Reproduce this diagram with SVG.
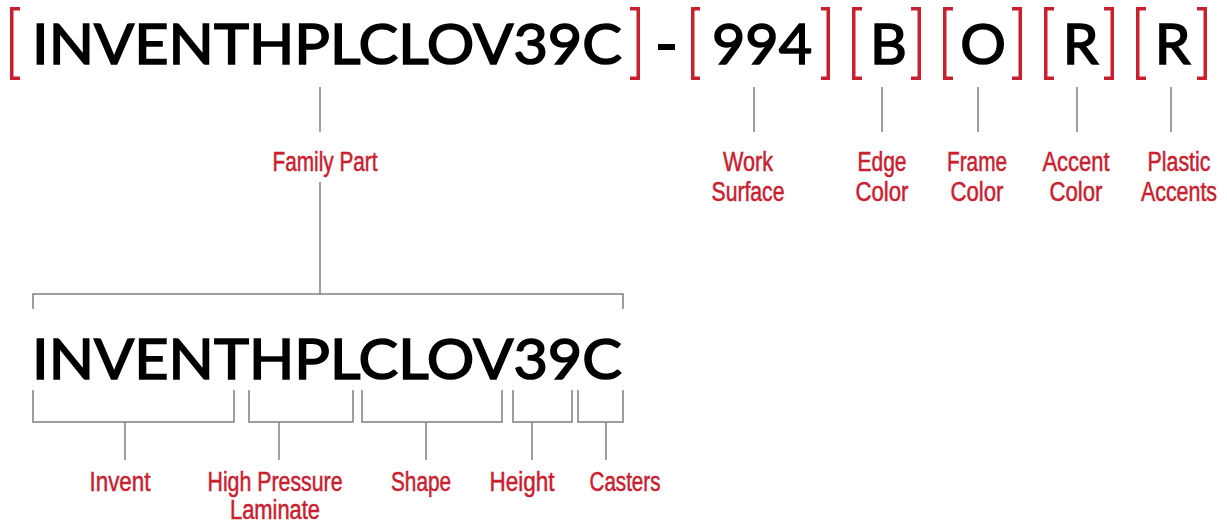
<svg xmlns="http://www.w3.org/2000/svg" width="1227" height="523" viewBox="0 0 1227 523">
<style>
.code{font-family:Lato,"Liberation Sans",sans-serif;font-size:57px;font-weight:400;fill:#000;stroke:#000;stroke-width:1.6}
.lbl{font-family:"Liberation Sans",sans-serif;font-size:27px;fill:#c8202f;stroke:#c8202f;stroke-width:0.5;text-anchor:middle}
.br{fill:none;stroke:#c8202f;stroke-width:3.5}
.ln{fill:none;stroke:#808080;stroke-width:1.5}
</style>
<rect width="1227" height="523" fill="#fff"/>
<g id="top-code">
<text class="code" x="32" y="64" textLength="590" lengthAdjust="spacingAndGlyphs">INVENTHPLCLOV39C</text>
<rect x="658" y="44" width="17" height="6" fill="#000"/>
<text class="code" x="712" y="64" textLength="100" lengthAdjust="spacingAndGlyphs">994</text>
<text class="code" x="888.5" y="64" text-anchor="middle">B</text>
<text class="code" x="983" y="64" text-anchor="middle">O</text>
<text class="code" x="1080.5" y="64" text-anchor="middle">R</text>
<text class="code" x="1172.5" y="64" text-anchor="middle">R</text>
</g>
<g id="brackets">
<path class="br" d="M20,8.75H11.75V78.25H20"/>
<path class="br" d="M630,8.75H638.25V78.25H630"/>
<path class="br" d="M700,8.75H692.75V78.25H700"/>
<path class="br" d="M821,8.75H828.25V78.25H821"/>
<path class="br" d="M862,8.75H853.75V78.25H862"/>
<path class="br" d="M911,8.75H919.25V78.25H911"/>
<path class="br" d="M953,8.75H944.75V78.25H953"/>
<path class="br" d="M1012,8.75H1020.25V78.25H1012"/>
<path class="br" d="M1054,8.75H1045.75V78.25H1054"/>
<path class="br" d="M1104,8.75H1112.25V78.25H1104"/>
<path class="br" d="M1146,8.75H1137.75V78.25H1146"/>
<path class="br" d="M1197,8.75H1205.25V78.25H1197"/>
</g>
<g id="connectors">
<path class="ln" d="M320,87V132"/>
<path class="ln" d="M754,87V132"/>
<path class="ln" d="M882,87V132"/>
<path class="ln" d="M978,87V132"/>
<path class="ln" d="M1077,87V132"/>
<path class="ln" d="M1171,87V132"/>
<path class="ln" d="M320,182V294"/>
<path class="ln" d="M33,309V294H623V309"/>
<path class="ln" d="M33,390V422H234V390"/>
<path class="ln" d="M249,390V422H353V390"/>
<path class="ln" d="M362,390V422H502V390"/>
<path class="ln" d="M513,390V422H572V390"/>
<path class="ln" d="M578,390V422H623V390"/>
<path class="ln" d="M125,422V460"/>
<path class="ln" d="M279,422V460"/>
<path class="ln" d="M426,422V460"/>
<path class="ln" d="M532,422V460"/>
<path class="ln" d="M606,422V460"/>
</g>
<g id="family-part"><text class="lbl" x="325" y="171" textLength="105" lengthAdjust="spacingAndGlyphs">Family Part</text></g>
<g id="work-surface"><text class="lbl" x="748" y="171" textLength="50" lengthAdjust="spacingAndGlyphs">Work</text><text class="lbl" x="748" y="201" textLength="73" lengthAdjust="spacingAndGlyphs">Surface</text></g>
<g id="edge-color"><text class="lbl" x="882" y="171" textLength="49" lengthAdjust="spacingAndGlyphs">Edge</text><text class="lbl" x="882" y="201" textLength="53" lengthAdjust="spacingAndGlyphs">Color</text></g>
<g id="frame-color"><text class="lbl" x="977" y="171" textLength="60" lengthAdjust="spacingAndGlyphs">Frame</text><text class="lbl" x="977" y="201" textLength="53" lengthAdjust="spacingAndGlyphs">Color</text></g>
<g id="accent-color"><text class="lbl" x="1076" y="171" textLength="67" lengthAdjust="spacingAndGlyphs">Accent</text><text class="lbl" x="1076" y="201" textLength="53" lengthAdjust="spacingAndGlyphs">Color</text></g>
<g id="plastic-accents"><text class="lbl" x="1179" y="171" textLength="63" lengthAdjust="spacingAndGlyphs">Plastic</text><text class="lbl" x="1179" y="201" font-size="25" textLength="76" lengthAdjust="spacingAndGlyphs">Accents</text></g>
<g id="bottom-code">
<text class="code" x="32" y="379" textLength="590" lengthAdjust="spacingAndGlyphs">INVENTHPLCLOV39C</text>
</g>
<g id="invent"><text class="lbl" x="120" y="491" textLength="61" lengthAdjust="spacingAndGlyphs">Invent</text></g>
<g id="hpl"><text class="lbl" x="275" y="491" textLength="135" lengthAdjust="spacingAndGlyphs">High Pressure</text><text class="lbl" x="275" y="519" textLength="90" lengthAdjust="spacingAndGlyphs">Laminate</text></g>
<g id="shape"><text class="lbl" x="421" y="491" textLength="60" lengthAdjust="spacingAndGlyphs">Shape</text></g>
<g id="height"><text class="lbl" x="522" y="491" textLength="65" lengthAdjust="spacingAndGlyphs">Height</text></g>
<g id="casters"><text class="lbl" x="625" y="491" textLength="71" lengthAdjust="spacingAndGlyphs">Casters</text></g>
</svg>
